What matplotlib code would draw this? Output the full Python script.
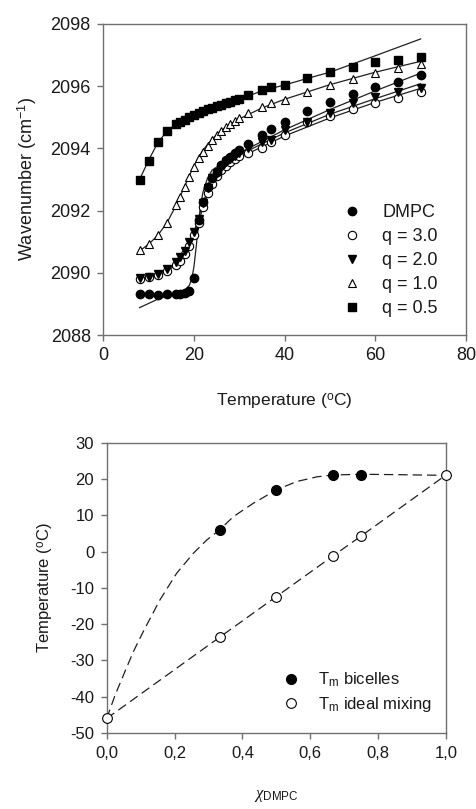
import matplotlib
matplotlib.use("Agg")
import matplotlib.pyplot as plt
from matplotlib.lines import Line2D

plt.rcParams['font.family'] = ['Liberation Sans', 'DejaVu Sans']
plt.rcParams['mathtext.fontset'] = 'custom'
plt.rcParams['mathtext.rm'] = 'Liberation Sans'
plt.rcParams['mathtext.it'] = 'Liberation Serif:italic'
plt.rcParams['axes.unicode_minus'] = False

# ---------------- top panel data ----------------
temp = [8, 10, 12, 14, 16, 17, 18, 19, 20, 21, 22, 23, 24, 25, 26, 27, 28, 29, 30,
        32, 35, 37, 40, 45, 50, 55, 60, 65, 70]
dmpc = [2089.31, 2089.31, 2089.29, 2089.31, 2089.32, 2089.33, 2089.35, 2089.40, 2089.84,
        2091.70, 2092.29, 2092.77, 2093.04, 2093.25, 2093.47, 2093.63, 2093.73, 2093.84,
        2093.95, 2094.14, 2094.43, 2094.62, 2094.84, 2095.20, 2095.48, 2095.75, 2095.98,
        2096.14, 2096.36]
q30 = [2089.80, 2089.85, 2089.92, 2090.05, 2090.25, 2090.38, 2090.60, 2090.85, 2091.20,
       2091.60, 2092.10, 2092.55, 2092.85, 2093.10, 2093.30, 2093.45, 2093.55, 2093.65,
       2093.75, 2093.84, 2094.00, 2094.22, 2094.43, 2094.85, 2095.04, 2095.27, 2095.47,
       2095.63, 2095.82]
q20 = [2089.84, 2089.88, 2089.95, 2090.12, 2090.34, 2090.50, 2090.70, 2090.98, 2091.32,
       2091.72, 2092.25, 2092.73, 2093.04, 2093.20, 2093.40, 2093.55, 2093.65, 2093.75,
       2093.85, 2094.00, 2094.22, 2094.27, 2094.59, 2094.86, 2095.15, 2095.45, 2095.66,
       2095.82, 2095.93]
q10 = [2090.73, 2090.92, 2091.22, 2091.59, 2092.18, 2092.45, 2092.77, 2093.09, 2093.41,
       2093.68, 2093.89, 2094.08, 2094.27, 2094.43, 2094.57, 2094.70, 2094.78, 2094.89,
       2094.97, 2095.13, 2095.32, 2095.45, 2095.56, 2095.82, 2096.04, 2096.23, 2096.41,
       2096.58, 2096.70]
q05 = [2093.00, 2093.60, 2094.20, 2094.55, 2094.78, 2094.85, 2094.92, 2095.00, 2095.08,
       2095.14, 2095.20, 2095.26, 2095.30, 2095.36, 2095.40, 2095.46, 2095.50, 2095.56,
       2095.60, 2095.72, 2095.87, 2095.98, 2096.05, 2096.25, 2096.45, 2096.63, 2096.77,
       2096.84, 2096.93]

# fitted curves
fit_t05 = [8, 10, 12, 14, 16, 18, 20, 22, 25, 28, 30, 35, 40, 45, 50, 60, 70]
fit_w05 = [2093.0, 2093.62, 2094.18, 2094.55, 2094.78, 2094.93, 2095.07, 2095.18, 2095.34,
           2095.48, 2095.58, 2095.85, 2096.04, 2096.25, 2096.45, 2096.98, 2097.52]
fit_t10 = [8, 10, 12, 14, 16, 18, 20, 22, 24, 26, 28, 30, 35, 40, 50, 60, 70]
fit_w10 = [2090.70, 2090.92, 2091.20, 2091.60, 2092.15, 2092.80, 2093.45, 2093.95, 2094.30,
           2094.58, 2094.78, 2094.95, 2095.30, 2095.58, 2096.05, 2096.45, 2096.80]
fit_td = [8, 12, 16, 18, 19, 19.5, 20, 20.5, 21, 21.5, 22, 23, 24, 26, 30, 40, 50, 60, 70]
fit_wd = [2088.88, 2089.15, 2089.35, 2089.45, 2089.60, 2089.80, 2090.20, 2090.85, 2091.60,
          2092.20, 2092.60, 2093.05, 2093.30, 2093.50, 2093.85, 2094.60, 2095.25, 2095.85,
          2096.42]
fit_t2 = [8, 10, 12, 14, 16, 18, 20, 22, 24, 26, 28, 30, 35, 40, 50, 60, 70]
fit_w20 = [2089.80, 2089.86, 2089.95, 2090.10, 2090.32, 2090.70, 2091.30, 2092.25, 2093.00,
           2093.38, 2093.60, 2093.78, 2094.15, 2094.50, 2095.10, 2095.60, 2096.08]
fit_w30 = [2089.78, 2089.84, 2089.92, 2090.05, 2090.25, 2090.58, 2091.15, 2092.10, 2092.90,
           2093.30, 2093.52, 2093.70, 2094.05, 2094.40, 2094.98, 2095.48, 2095.93]

top_labels = ['DMPC', 'q = 3.0', 'q = 2.0', 'q = 1.0', 'q = 0.5']
top_xticks = [0, 20, 40, 60, 80]
top_yticks = [2088, 2090, 2092, 2094, 2096, 2098]

# ---------------- bottom panel data ----------------
chi_bic = [0.333, 0.5, 0.667, 0.75]
tm_bic = [6.0, 17.0, 21.1, 21.1]
chi_ideal = [0.0, 0.333, 0.5, 0.667, 0.75, 1.0]
tm_ideal = [-46.0, -23.6, -12.4, -1.2, 4.3, 21.1]
curve_chi = [0.0, 0.025, 0.054, 0.079, 0.108, 0.157, 0.206, 0.255, 0.295, 0.333,
             0.373, 0.432, 0.5, 0.56, 0.62, 0.667, 0.75, 0.85, 1.0]
curve_tm = [-46.0, -39.5, -33.0, -27.5, -22.0, -13.3, -6.0, -0.5, 3.2, 6.0,
            9.6, 13.3, 17.0, 19.3, 20.6, 21.1, 21.3, 21.2, 21.0]
bot_xticks = [0.0, 0.2, 0.4, 0.6, 0.8, 1.0]
bot_xticklabels = ['0,0', '0,2', '0,4', '0,6', '0,8', '1,0']
bot_yticks = [-50, -40, -30, -20, -10, 0, 10, 20, 30]
bot_yticklabels = ['-50', '-40', '-30', '-20', '-10', '0', '10', '20', '30']
bot_labels = [r'T$_{\mathrm{m}}$ bicelles', r'T$_{\mathrm{m}}$ ideal mixing']

W, H = 476, 809
fig = plt.figure(figsize=(W / 100, H / 100), dpi=100)
spine_c = '#707070'
text_c = '#1a1a1a'

def style(ax, fs):
    for s in ax.spines.values():
        s.set_color(spine_c)
        s.set_linewidth(1.0)
    ax.tick_params(direction='out', length=4, width=1.0, color=spine_c,
                   labelsize=fs, labelcolor=text_c, pad=5, top=False, right=False)

# ---------- top ----------
ax1 = fig.add_axes([103.3 / W, 1 - 335 / H, (466 - 103.3) / W, (335 - 24) / H])
lc = '#202020'
ax1.plot(fit_t05, fit_w05, '-', color=lc, lw=0.9)
ax1.plot(fit_t10, fit_w10, '-', color=lc, lw=0.9)
ax1.plot(fit_td, fit_wd, '-', color=lc, lw=0.9)
ax1.plot(fit_t2, fit_w20, '-', color=lc, lw=0.9)
ax1.plot(fit_t2, fit_w30, '-', color=lc, lw=0.9)

ms = 6
ax1.plot(temp, q10, '^', ms=ms, mfc='white', mec='black', mew=0.8, ls='none')
ax1.plot(temp, q30, 'o', ms=ms, mfc='white', mec='black', mew=0.8, ls='none')
ax1.plot(temp, q20, 'v', ms=ms, mfc='black', mec='black', ls='none')
ax1.plot(temp, dmpc, 'o', ms=ms, mfc='black', mec='black', ls='none')
ax1.plot(temp, q05, 's', ms=ms - 0.5, mfc='black', mec='black', ls='none')

ax1.set_xlim(0, 80)
ax1.set_ylim(2088, 2098)
ax1.set_xticks(top_xticks)
ax1.set_yticks(top_yticks)
style(ax1, 13)
ax1.set_xlabel(r'Temperature ($^{\mathrm{o}}$C)', fontsize=12.5, color=text_c, labelpad=20)
ax1.set_ylabel(r'Wavenumber (cm$^{-1}$)', fontsize=13, color=text_c, labelpad=8)

handles = [
    Line2D([], [], marker='o', ls='none', ms=ms, mfc='black', mec='black'),
    Line2D([], [], marker='o', ls='none', ms=ms, mfc='white', mec='black', mew=0.8),
    Line2D([], [], marker='v', ls='none', ms=ms, mfc='black', mec='black'),
    Line2D([], [], marker='^', ls='none', ms=ms, mfc='white', mec='black', mew=0.8),
    Line2D([], [], marker='s', ls='none', ms=ms - 0.5, mfc='black', mec='black'),
]
leg = ax1.legend(handles, top_labels, loc='lower left', bbox_to_anchor=(0.64, 0.035),
                 frameon=False, fontsize=13, handlelength=1.0, handletextpad=1.2,
                 labelspacing=0.38, borderaxespad=0)
for t in leg.get_texts():
    t.set_color(text_c)

# ---------- bottom ----------
ax2 = fig.add_axes([106.7 / W, 1 - 733 / H, (446 - 106.7) / W, (733 - 442.7) / H])
ax2.plot(curve_chi, curve_tm, color=lc, lw=0.9, dashes=(7.5, 4))
ax2.plot(chi_ideal, tm_ideal, color=lc, lw=0.9, dashes=(7.5, 4))
ax2.plot(chi_bic, tm_bic, 'o', ms=7, mfc='black', mec='black', ls='none', clip_on=False)
ax2.plot(chi_ideal, tm_ideal, 'o', ms=7, mfc='white', mec='black', mew=0.8, ls='none',
         clip_on=False, zorder=5)
ax2.set_xlim(0, 1)
ax2.set_ylim(-50, 30)
ax2.set_xticks(bot_xticks)
ax2.set_xticklabels(bot_xticklabels)
ax2.set_yticks(bot_yticks)
ax2.set_yticklabels(bot_yticklabels)
style(ax2, 12)
ax2.set_xlabel(r'$\chi_{\mathrm{DMPC}}$', fontsize=12, color=text_c, labelpad=20)
ax2.set_ylabel(r'Temperature ($^{\mathrm{o}}$C)', fontsize=12, color=text_c, labelpad=10)

handles2 = [
    Line2D([], [], marker='o', ls='none', ms=7, mfc='black', mec='black'),
    Line2D([], [], marker='o', ls='none', ms=7, mfc='white', mec='black', mew=0.8),
]
leg2 = ax2.legend(handles2, bot_labels, loc='lower left', bbox_to_anchor=(0.5, 0.042),
                  frameon=False, fontsize=12, handlelength=1.0, handletextpad=1.1,
                  labelspacing=0.35, borderaxespad=0)
for t in leg2.get_texts():
    t.set_color(text_c)

fig.savefig('out.png', dpi=100)
